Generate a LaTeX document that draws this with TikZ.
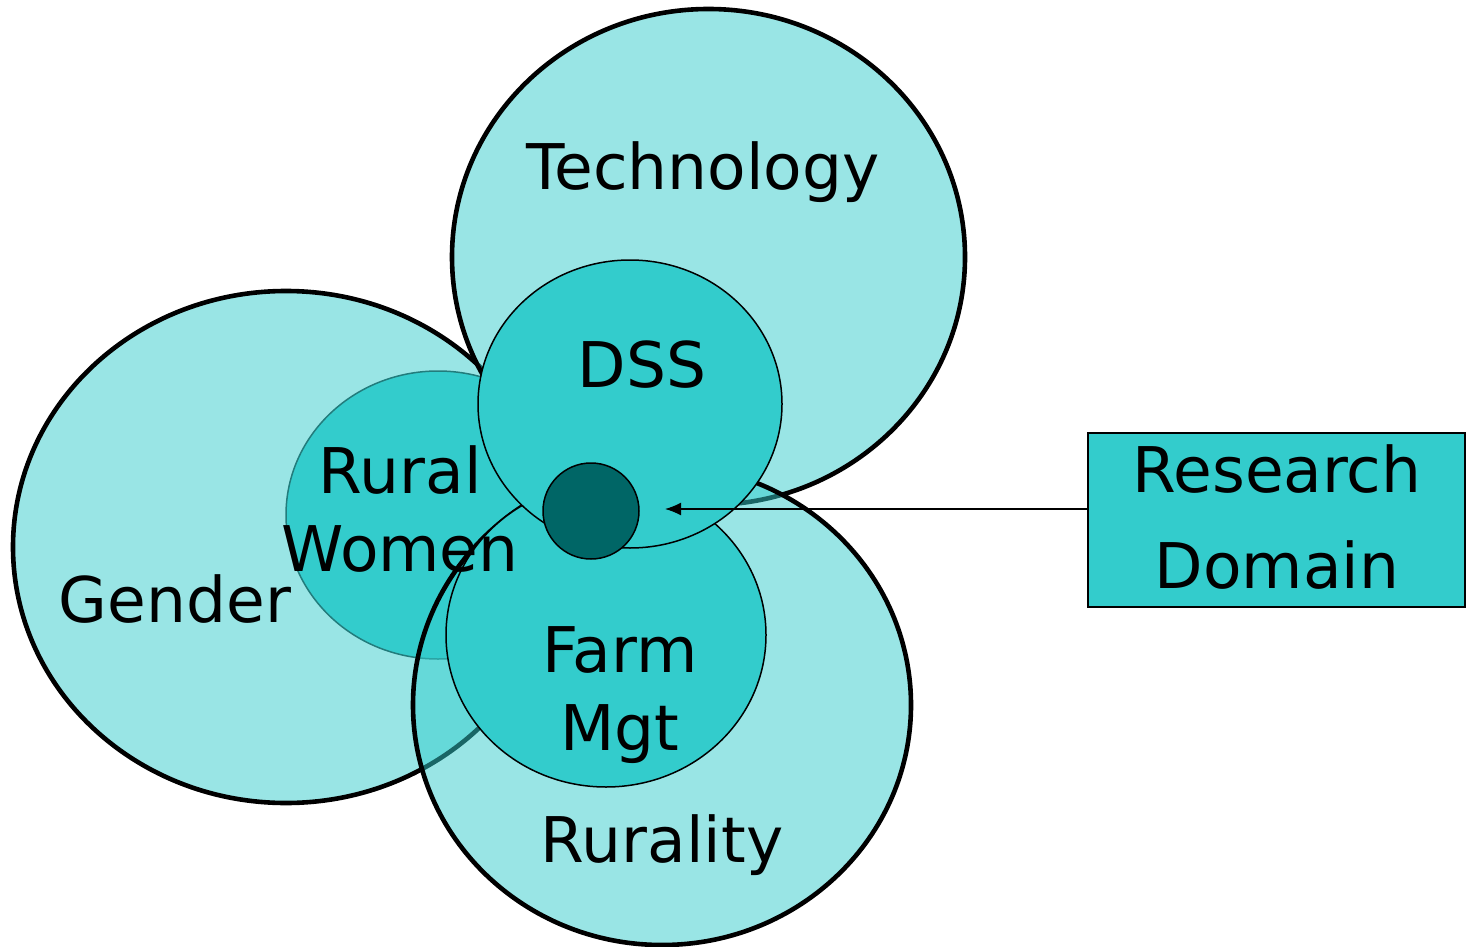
\documentclass[tikz,border=0pt]{standalone}
\usepackage{fontspec}
\setmainfont{DejaVu Sans}
\usetikzlibrary{shapes.geometric, arrows.meta, positioning, calc}
\definecolor{tealmid}{HTML}{33CCCC}
\definecolor{tealdark}{HTML}{006666}
\definecolor{tealedge}{HTML}{227C7C}
\tikzset{
  bigdomain/.style={ellipse,draw=black,line width=2.3pt,fill=tealmid,fill opacity=.5,inner sep=0pt},
  subdomain/.style={ellipse,draw=black,line width=.75pt,fill=tealmid,inner sep=0pt},
  coredot/.style={circle,draw=black,line width=.75pt,fill=tealdark,inner sep=0pt,minimum size=48pt},
  tagtext/.style={inner sep=0pt,anchor=base,font=\fontsize{31.5}{39}\selectfont,align=center},
  infobox/.style={rectangle,draw=black,line width=1pt,fill=tealmid,inner sep=0pt,
    minimum width=188.5pt,minimum height=87pt},
  pointer/.style={line width=.7pt,-{Latex[length=8pt,width=6.5pt]}},
}
\begin{document}
\begin{tikzpicture}[x=.5pt,y=-.5pt]
	    \useasboundingbox (0,0) rectangle (1472,947);
	    % big domains, back to front
	    \node[bigdomain,minimum width=273pt,minimum height=256pt] (G) at (286,547) {};
	    \node[subdomain,draw=tealedge,minimum width=152pt,minimum height=144pt] (W) at (438,515) {};
	    \node[bigdomain,minimum width=256.5pt,minimum height=248pt] (T) at (708.5,257) {};
	    \node[bigdomain,minimum width=249pt,minimum height=240pt] (R) at (662,705) {};
	    % overlaps
	    \node[subdomain,minimum width=160pt,minimum height=152pt] (F) at (606,635) {};
	    \node[subdomain,minimum width=152pt,minimum height=144pt] (S) at (630,404) {};
	    \node[coredot] (K) at (591,511) {};
	    \node[infobox] (B) at (1276.5,520) {};
	    \coordinate (tip) at (665,509);
	    \draw[pointer] (B.west |- tip) -- (tip);
	    % texts (base = last line)
	    \node[tagtext] (Tl) at (703,190) {Technology};
	    \node[tagtext] (Gl) at (175,622) {Gender};
	    \node[tagtext] (Rl) at (662,862) {Rurality};
	    \node[tagtext] (Sl) at (642,387) {DSS};
	    \node[tagtext] (Wl) at (400,571) {Rural\\Women};
	    \node[tagtext] (Fl) at (620,750) {Farm\\Mgt};
	    \node[tagtext,font=\fontsize{31.5}{48}\selectfont] (Bl) at (1277,588) {Research\\Domain};
	\end{tikzpicture}
\end{document}
